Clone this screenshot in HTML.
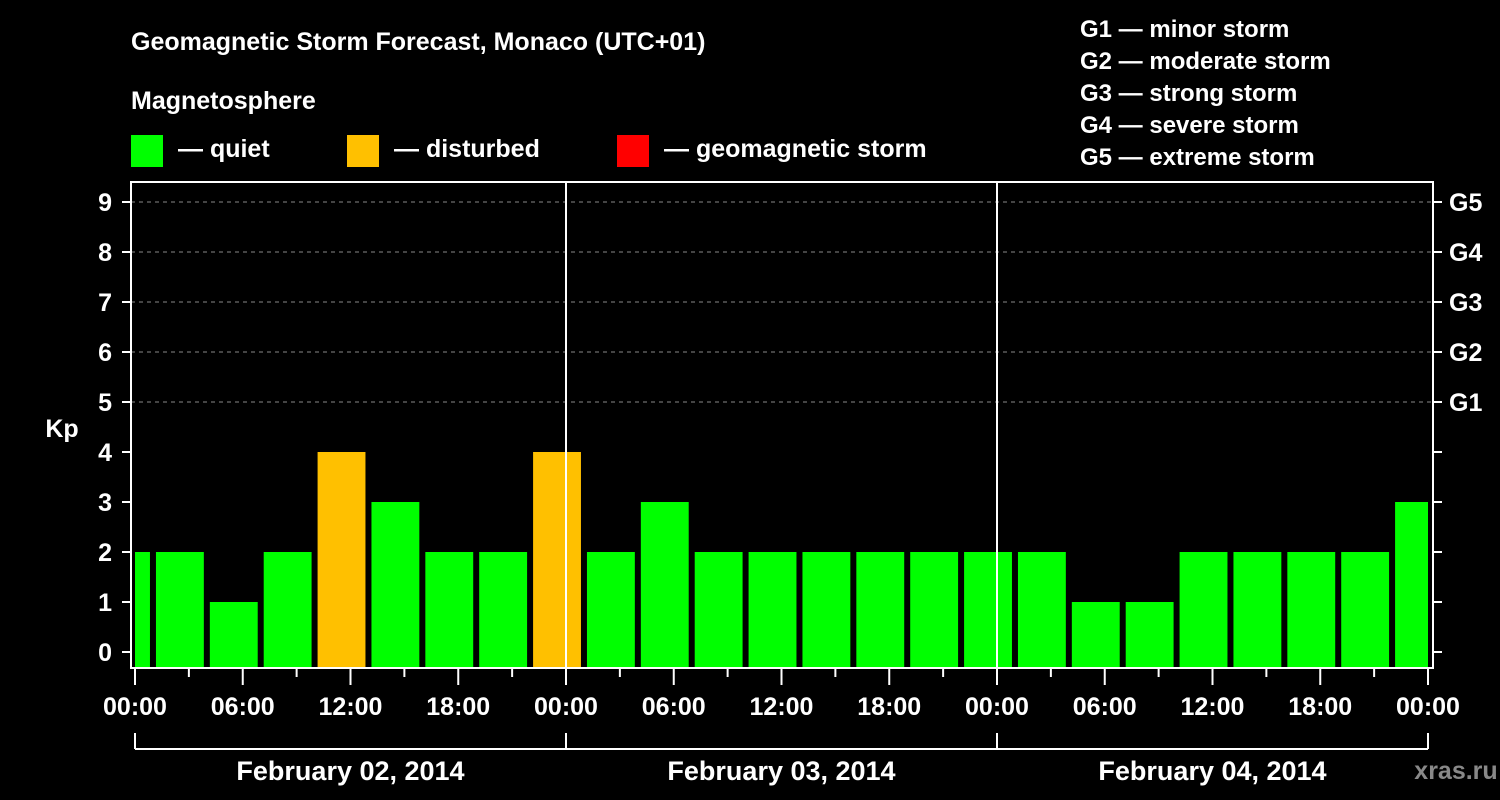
<!DOCTYPE html>
<html><head><meta charset="utf-8"><style>
body{margin:0;background:#000;}
svg{display:block;font-family:"Liberation Sans",Arial,sans-serif;font-weight:bold;}
</style></head><body>
<svg id="c" width="1500" height="800" viewBox="0 0 1500 800">
<rect x="0" y="0" width="1500" height="800" fill="#000"/>
<text x="131" y="50" fill="#fff" font-size="25">Geomagnetic Storm Forecast, Monaco (UTC+01)</text>
<text x="131" y="109" fill="#fff" font-size="25">Magnetosphere</text>
<g><rect x="131" y="135" width="32" height="32" fill="#00ff00"/><text x="178" y="157" fill="#fff" font-size="25">— quiet</text></g>
<g><rect x="347" y="135" width="32" height="32" fill="#ffc000"/><text x="394" y="157" fill="#fff" font-size="25">— disturbed</text></g>
<g><rect x="617" y="135" width="32" height="32" fill="#ff0000"/><text x="664" y="157" fill="#fff" font-size="25">— geomagnetic storm</text></g>
<g fill="#fff" font-size="24">
<text x="1080" y="37">G1 — minor storm</text>
<text x="1080" y="69">G2 — moderate storm</text>
<text x="1080" y="101">G3 — strong storm</text>
<text x="1080" y="133">G4 — severe storm</text>
<text x="1080" y="165">G5 — extreme storm</text>
</g>
<text x="62" y="437" fill="#fff" font-size="25" text-anchor="middle">Kp</text>
<text x="1456" y="779" fill="#888" font-size="25" text-anchor="middle">xras.ru</text>
<g id="grid"></g><g id="bars"></g><g id="axes"></g>
</svg>
<script>
const kpValues=[2,2,1,2,4,3,2,2,4,2,3,2,2,2,2,2,2,2,1,1,2,2,2,2,3];
const yTicks=[0,1,2,3,4,5,6,7,8,9];
const gLabels=["G1","G2","G3","G4","G5"];
const gLevels=[5,6,7,8,9];
const xTickLabels=["00:00","06:00","12:00","18:00","00:00","06:00","12:00","18:00","00:00","06:00","12:00","18:00","00:00"];
const dayLabels=["February 02, 2014","February 03, 2014","February 04, 2014"];
const NS="http://www.w3.org/2000/svg";
const L=131,R=1433,T=182,B=668,X0=135,X1=1428;
const x=h=>X0+(X1-X0)*h/72;
const y=v=>652-50*v;
function mk(tag,attrs,parent,txt){const e=document.createElementNS(NS,tag);for(const k in attrs)e.setAttribute(k,attrs[k]);if(txt!==undefined)e.textContent=txt;parent.appendChild(e);return e;}
const grid=document.getElementById('grid'),bars=document.getElementById('bars'),axes=document.getElementById('axes');
yTicks.forEach(v=>{if(v>=5){const l=mk('line',{x1:L,x2:R,y1:y(v),y2:y(v),stroke:'#888','stroke-dasharray':'4,4','stroke-width':1},grid);}});
kpValues.forEach((v,k)=>{let s=-2+3*k,e=s+3;let xs=x(s)+3,xe=x(e)-3;xs=Math.max(xs,X0);xe=Math.min(xe,X1);
const c=v>=5?'#ff0000':(v>=4?'#ffc000':'#00ff00');
const r=mk('rect',{x:xs,y:y(v),width:xe-xs,height:B-y(v),fill:c},bars);
});
// frame
const f=mk('rect',{x:L,y:T,width:R-L,height:B-T,fill:'none',stroke:'#fff','stroke-width':2},axes);

[24,48].forEach(h=>{const l=mk('line',{x1:x(h),x2:x(h),y1:T,y2:B,stroke:'#fff','stroke-width':2},axes);});
yTicks.forEach(v=>{
mk('line',{x1:L-9,x2:L,y1:y(v),y2:y(v),stroke:'#fff','stroke-width':2},axes);
mk('line',{x1:R,x2:R+9,y1:y(v),y2:y(v),stroke:'#fff','stroke-width':2},axes);
const t=mk('text',{x:112,y:y(v)+9,fill:'#fff','font-size':25,'text-anchor':'end'},axes,String(v));
});
gLevels.forEach((v,i)=>{const t=mk('text',{x:1449,y:y(v)+9,fill:'#fff','font-size':25},axes,gLabels[i]);
});
for(let h=0;h<=72;h+=3){mk('line',{x1:x(h),x2:x(h),y1:B,y2:h%6==0?685:677,stroke:'#fff','stroke-width':2},axes);}
xTickLabels.forEach((s,i)=>{const t=mk('text',{x:x(i*6),y:715,fill:'#fff','font-size':25,'text-anchor':'middle'},axes,s);
});
mk('line',{x1:X0,x2:X1,y1:749,y2:749,stroke:'#fff','stroke-width':2},axes);
[0,24,48,72].forEach(h=>mk('line',{x1:x(h),x2:x(h),y1:733,y2:749,stroke:'#fff','stroke-width':2},axes));
dayLabels.forEach((s,i)=>{const t=mk('text',{x:x(i*24+12),y:780,fill:'#fff','font-size':27,'text-anchor':'middle'},axes,s);
});
</script>
</body></html>
